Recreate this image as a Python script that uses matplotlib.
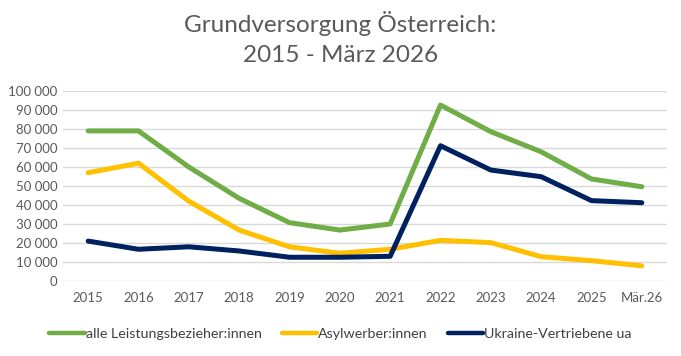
import matplotlib
matplotlib.use("Agg")
import matplotlib.pyplot as plt
from matplotlib.ticker import FuncFormatter

plt.rcParams['font.family'] = ['Lato', 'DejaVu Sans']

labels = ["2015", "2016", "2017", "2018", "2019", "2020", "2021",
          "2022", "2023", "2024", "2025", "Mär.26"]
alle = [79000, 79000, 60000, 43500, 30700, 26800, 30000,
        92600, 78600, 68000, 53700, 49600]
asyl = [57000, 62000, 42000, 26800, 18000, 14600, 16700,
        21400, 20200, 12800, 10700, 8000]
ukraine = [21000, 16700, 18000, 15800, 12500, 12500, 13000,
           71200, 58400, 54900, 42300, 41200]

series = [
    ("alle Leistungsbezieher:innen", alle, "#70AD47"),
    ("Asylwerber:innen", asyl, "#FFC000"),
    ("Ukraine-Vertriebene ua", ukraine, "#002060"),
]

fig = plt.figure(figsize=(6.81, 3.56), dpi=100)
ax = fig.add_axes([63 / 681, 1 - 281 / 356, 604 / 681, 190 / 356])

x = list(range(len(labels)))
for name, vals, col in series:
    ax.plot(x, vals, color=col, linewidth=3.6, solid_capstyle='round',
            solid_joinstyle='round', label=name)

ax.set_xlim(-0.5, len(labels) - 0.5)
ax.set_ylim(0, 100000)
ax.set_yticks(range(0, 100001, 10000))
ax.yaxis.set_major_formatter(FuncFormatter(lambda v, p: f"{int(v):,}".replace(",", " ")))
ax.set_xticks(x)
ax.set_xticklabels(labels)
ax.grid(axis='y', color='#D9D9D9', linewidth=1)
ax.set_axisbelow(True)
for s in ax.spines.values():
    s.set_visible(False)
ax.tick_params(length=0, colors='#595959', labelsize=9.5)
ax.tick_params(axis='x', pad=8)
ax.tick_params(axis='y', pad=4)

fig.text(0.5, 0.935, "Grundversorgung Österreich:", ha='center', va='center',
         fontsize=17.5, color='#595959')
fig.text(0.5, 0.843, "2015 - März 2026", ha='center', va='center',
         fontsize=17.5, color='#595959')

leg = fig.legend(loc='center', bbox_to_anchor=(0.5, 0.062), ncol=3, frameon=False,
                 fontsize=10.3, handlelength=2.5, handletextpad=0.05,
                 columnspacing=1.4, labelcolor='#404040')
for h in leg.get_lines():
    h.set_linewidth(3.2)

fig.savefig("out.png", dpi=100)
